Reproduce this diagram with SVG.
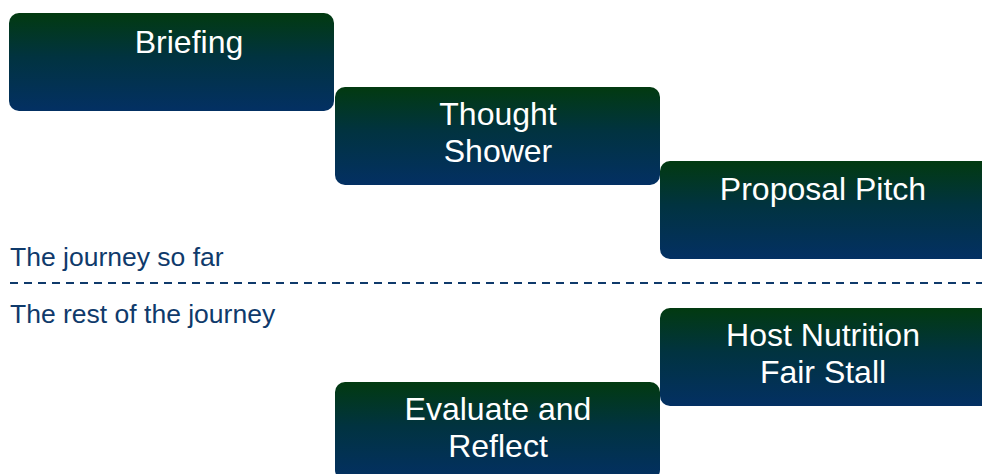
<svg xmlns="http://www.w3.org/2000/svg" width="982" height="474" viewBox="0 0 982 474">
  <defs>
    <linearGradient id="stepFill" x1="0" y1="0" x2="0" y2="1">
      <stop offset="0" stop-color="#023a10"/>
      <stop offset="0.45" stop-color="#013340"/>
      <stop offset="1" stop-color="#033063"/>
    </linearGradient>
  </defs>
  <style>
    .step { fill: url(#stepFill); }
    .stepText { fill: #ffffff; font-family: "Liberation Sans", Arial, sans-serif; font-size: 32px; text-anchor: middle; }
    .section { fill: #0f3a6b; font-family: "Liberation Sans", Arial, sans-serif; font-size: 26.5px; }
    .divider { stroke: #0f3a6b; stroke-width: 2; stroke-dasharray: 8 6; fill: none; }
  </style>

  <rect width="982" height="474" fill="#ffffff"/>

  <!-- section labels and divider -->
  <text class="section" x="10" y="266">The journey so far</text>
  <g id="connectors">
    <line class="divider" x1="10" y1="283" x2="982" y2="283"/>
  </g>
  <text class="section" x="10" y="323">The rest of the journey</text>

  <g id="briefing">
    <rect class="step" x="9" y="13" width="325" height="98" rx="10"/>
    <text class="stepText" x="189" y="53">Briefing</text>
  </g>

  <g id="thought-shower">
    <rect class="step" x="335" y="87" width="325" height="98" rx="10"/>
    <text class="stepText" x="498" y="125">Thought</text>
    <text class="stepText" x="498" y="162">Shower</text>
  </g>

  <g id="proposal-pitch">
    <rect class="step" x="660" y="161" width="332" height="98" rx="10"/>
    <text class="stepText" x="823" y="200">Proposal Pitch</text>
  </g>

  <g id="host-nutrition-fair-stall">
    <rect class="step" x="660" y="308" width="332" height="98" rx="10"/>
    <text class="stepText" x="823" y="346">Host Nutrition</text>
    <text class="stepText" x="823" y="383">Fair Stall</text>
  </g>

  <g id="evaluate-and-reflect">
    <rect class="step" x="335" y="382" width="325" height="98" rx="10"/>
    <text class="stepText" x="498" y="420">Evaluate and</text>
    <text class="stepText" x="498" y="457">Reflect</text>
  </g>
</svg>
